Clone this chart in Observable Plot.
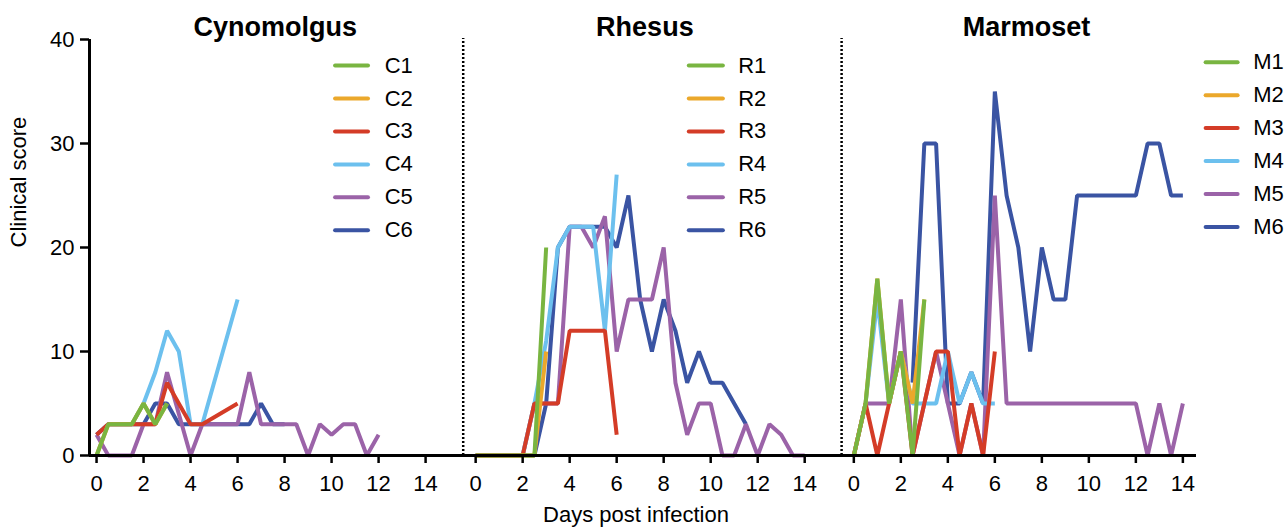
<!DOCTYPE html>
<html><head><meta charset="utf-8">
<script src="https://cdn.jsdelivr.net/npm/d3@7"></script>
<script src="https://cdn.jsdelivr.net/npm/@observablehq/plot@0.6"></script>
<style>body{margin:0;background:#fff;}</style>
</head><body><div id="chart"></div>
<script>
const _ = null;
const days = [0,0.5,1,1.5,2,2.5,3,3.5,4,4.5,5,5.5,6,6.5,7,7.5,8,8.5,9,9.5,10,10.5,11,11.5,12,12.5,13,13.5,14];
const panels = ["Cynomolgus","Rhesus","Marmoset"];
const panelOffsets = [0, 16.13, 32.22];
const xTickLabels = [0,2,4,6,8,10,12,14];
const yTicks = [0,10,20,30,40];
const seriesColors = ["#79b541","#eba82b","#d43c27","#6cc0ee","#9b63a8","#3a54a3"];
const cynoIds = ["C1","C2","C3","C4","C5","C6"];
const rhesusIds = ["R1","R2","R3","R4","R5","R6"];
const marmosetIds = ["M1","M2","M3","M4","M5","M6"];

// Cynomolgus (values at days[0], days[1], ...)
const C1 = [0,3,3,3,5,3,5];
const C2 = [0,3,3,3,5,3,5];
const C3 = [2,3,3,3,3,3,7,_,3,3,_,_,5];
const C4 = [_,3,3,3,5,8,12,10,3,3,_,_,15];
const C5 = [2,0,0,0,3,3,8,_,0,3,3,3,3,8,3,3,3,3,0,3,2,3,3,0,2];
const C6 = [2,3,3,3,3,5,5,3,3,3,3,3,3,3,5,3,3];
// Rhesus
const R1 = [0,0,0,0,0,0,20];
const R2 = [0,0,0,0,0,0,10];
const R3 = [0,0,0,0,0,5,5,5,12,12,12,12,2];
const R4 = [0,0,0,0,0,5,11,20,22,22,22,12,27];
const R5 = [0,0,0,0,0,5,5,5,22,22,20,23,10,15,15,15,20,7,2,5,5,0,0,3,0,3,2,0,0];
const R6 = [0,0,0,0,0,0,5,20,22,22,22,22,20,25,15,10,15,12,7,10,7,7,5,3];
// Marmoset
const M1 = [0,5,17,5,10,0,15];
const M2 = [0,5,17,5,10,5,15];
const M3 = [0,5,0,5,10,0,5,10,10,0,5,0,10];
const M4 = [0,5,15,5,10,5,5,5,10,5,8,5,5];
const M5 = [0,5,5,5,15,0,5,10,5,0,5,0,25,5,5,5,5,5,5,5,5,5,5,5,5,0,5,0,5];
const M6 = [_,_,_,_,_,7,30,30,5,5,8,5,35,25,20,10,20,15,15,25,25,25,25,25,25,30,30,25,25];

// ---- layout ----
const xDomain = [-0.3, 46.8];
const separators = [15.6, 31.7];
const titleCenters = [7.6, 7.2, 7.35];
const legendLayout = [
  {x1: 10.17, x2: 11.57, xt: 12.26, top: 37.5},
  {x1: 9.09, x2: 10.54, xt: 11.17, top: 37.5},
  {x1: 14.99, x2: 16.35, xt: 16.99, top: 37.82}
];
const legendStep = 3.17;

const allSeries = [[C1,C2,C3,C4,C5,C6],[R1,R2,R3,R4,R5,R6],[M1,M2,M3,M4,M5,M6]];
const allIds = [cynoIds, rhesusIds, marmosetIds];

const rows = [];
panels.forEach((p, pi) => {
  for (let i = 5; i >= 0; i--) {
    allSeries[pi][i].forEach((v, k) => {
      if (v != null) rows.push({id: allIds[pi][i], color: seriesColors[i], x: panelOffsets[pi] + days[k], y: v});
    });
  }
});

const legendRows = [];
panels.forEach((p, pi) => {
  const L = legendLayout[pi];
  allIds[pi].forEach((id, i) => {
    legendRows.push({label: id, color: seriesColors[i],
      x1: panelOffsets[pi] + L.x1, x2: panelOffsets[pi] + L.x2, xt: panelOffsets[pi] + L.xt,
      y: L.top - i * legendStep});
  });
});

const titleRows = panels.map((p, pi) => ({label: p, x: panelOffsets[pi] + titleCenters[pi], y: 40}));

const xTicks = panelOffsets.flatMap(o => xTickLabels.map(t => o + t));
const xTickFormat = d => {
  let pi = 0;
  panelOffsets.forEach((o, i) => { if (d >= o - 0.01) pi = i; });
  return String(Math.round(d - panelOffsets[pi]));
};

const chart = Plot.plot({
  width: 1287,
  height: 529,
  marginLeft: 89,
  marginRight: 91,
  marginTop: 39,
  marginBottom: 74,
  style: {fontFamily: "'Liberation Sans', Arial, Helvetica, sans-serif", fontSize: "22px", background: "white", color: "black"},
  x: {domain: xDomain},
  y: {domain: [0, 40]},
  color: {type: "identity"},
  marks: [
    Plot.ruleX(separators, {y1: 0, y2: 40.1, stroke: "black", strokeWidth: 2.5, strokeDasharray: "2,2"}),
    Plot.line(rows, {x: "x", y: "y", z: "id", stroke: "color", strokeWidth: 4, strokeLinejoin: "miter", strokeLinecap: "butt"}),
    Plot.ruleY([0], {stroke: "black", strokeWidth: 3}),
    Plot.ruleX([xDomain[0]], {stroke: "black", strokeWidth: 3}),
    Plot.axisX({ticks: xTicks, tickFormat: xTickFormat, tickSize: 8, tickPadding: 12, strokeWidth: 2.5, fontSize: 22, label: null}),
    Plot.axisY({ticks: yTicks, tickSize: 9, tickPadding: 6, strokeWidth: 2.5, fontSize: 22, label: null}),
    Plot.ruleY(legendRows, {y: "y", x1: "x1", x2: "x2", stroke: "color", strokeWidth: 4, strokeLinecap: "round"}),
    Plot.text(legendRows, {x: "xt", y: "y", text: "label", textAnchor: "start", fontSize: 22}),
    Plot.text(titleRows, {x: "x", y: "y", text: "label", dy: -12, fontSize: 27, fontWeight: "bold"}),
    Plot.text(["Clinical score"], {frameAnchor: "left", text: d => d, rotate: -90, dx: -71, fontSize: 22}),
    Plot.text(["Days post infection"], {frameAnchor: "bottom", text: d => d, dx: -7, dy: 66, fontSize: 22})
  ]
});
document.getElementById("chart").appendChild(chart);
</script>
</body></html>
